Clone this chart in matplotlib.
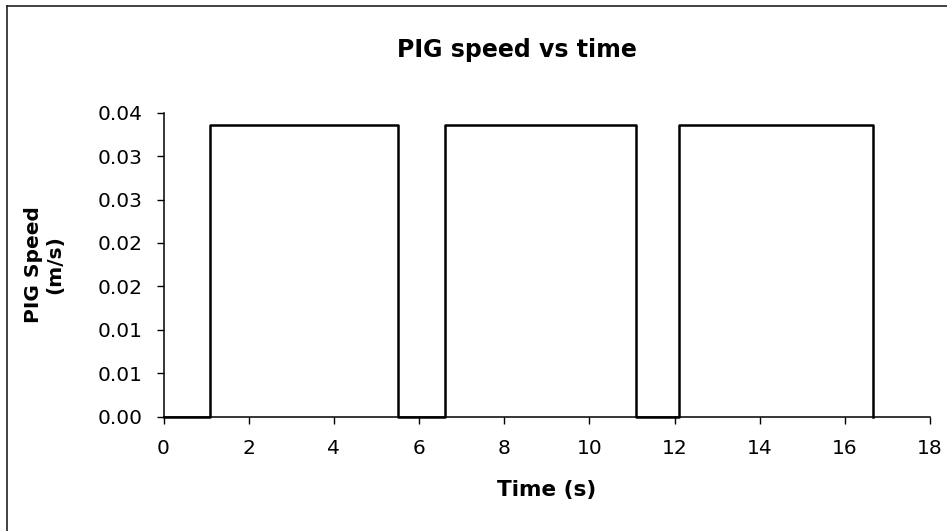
import matplotlib
matplotlib.use("Agg")
import matplotlib.pyplot as plt
from matplotlib.lines import Line2D
from matplotlib.ticker import MultipleLocator, FuncFormatter
from decimal import Decimal, ROUND_HALF_UP

# Step times (s) and the PIG speed (m/s) held from each time onward
time_s = [0.0, 1.1, 5.5, 6.6, 11.1, 12.1, 16.65]
speed_ms = [0.0, 0.0336, 0.0, 0.0336, 0.0, 0.0336, 0.0]

x_ticks = [0, 2, 4, 6, 8, 10, 12, 14, 16, 18]


def two_decimals(v, _pos):
    # spreadsheet-style rounding (half away from zero)
    d = Decimal(f"{float(v):.6f}").quantize(Decimal("0.01"), rounding=ROUND_HALF_UP)
    return f"{d:.2f}"


W, H = 947, 531
fig = plt.figure(figsize=(W / 100, H / 100), dpi=100)
fig.patch.set_facecolor("white")

ax = fig.add_axes([163.5 / W, 1 - 416.7 / H, (930 - 163.5) / W, (416.7 - 112.7) / H])

ax.step(time_s, speed_ms, where="post", color="black", lw=1.8, clip_on=False, zorder=3)

ax.set_xlim(0, 18)
ax.set_ylim(0, 0.035)
ax.set_xticks(x_ticks)
ax.yaxis.set_major_locator(MultipleLocator(0.005))
ax.yaxis.set_major_formatter(FuncFormatter(two_decimals))

for side in ("top", "right"):
    ax.spines[side].set_visible(False)
for side in ("left", "bottom"):
    ax.spines[side].set_linewidth(1.1)
    ax.spines[side].set_color("black")

ax.tick_params(axis="y", direction="out", length=5, width=1.0, pad=10,
               labelsize=14.5, colors="black")
ax.tick_params(axis="x", direction="out", length=5, width=1.0, pad=11,
               labelsize=14.5, colors="black")
for lab in ax.get_xticklabels() + ax.get_yticklabels():
    lab.set_family("DejaVu Sans")

fig.text(517 / W, 1 - 50 / H, "PIG speed vs time", ha="center", va="center",
         fontsize=17, fontweight="bold", family="DejaVu Sans")
fig.text(547 / W, 1 - 490 / H, "Time (s)", ha="center", va="center",
         fontsize=15.5, fontweight="bold", family="DejaVu Sans")
fig.text(44 / W, 1 - 265 / H, "PIG Speed\n(m/s)", ha="center", va="center",
         rotation=90, fontsize=14.5, fontweight="bold", family="DejaVu Sans",
         linespacing=1.15, multialignment="center")

# Frame lines along the top and left edges of the chart area
fig.add_artist(Line2D([7 / W, 1.0], [1 - 6 / H, 1 - 6 / H], transform=fig.transFigure,
                      color="#222222", lw=1.2))
fig.add_artist(Line2D([7 / W, 7 / W], [0.0, 1 - 6 / H], transform=fig.transFigure,
                      color="#222222", lw=1.2))

fig.savefig("out.png", dpi=100, facecolor="white")
